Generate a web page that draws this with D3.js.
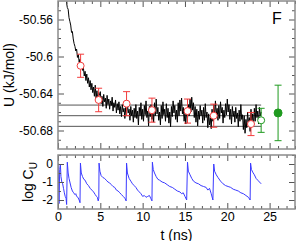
<!DOCTYPE html>
<html><head><meta charset="utf-8">
<script src="https://cdn.jsdelivr.net/npm/d3@7"></script>
<style>
html,body{margin:0;padding:0;background:#fff;}
svg{display:block;font-family:"Liberation Sans",Arial,sans-serif;}
</style></head>
<body>
<svg id="c" width="297" height="241"></svg>
<script>
// ---------- DATA ----------
const traceStart = 1.0, traceStep = 0.1;
const uTrace = [
-50.541,-50.547,-50.549,-50.558,-50.562,-50.566,-50.574,-50.573,-50.581,-50.586,
-50.589,-50.594,-50.592,-50.601,-50.598,-50.606,-50.603,-50.611,-50.607,-50.615,
-50.612,-50.621,-50.616,-50.626,-50.619,-50.629,-50.623,-50.633,-50.626,-50.636,
-50.629,-50.639,-50.633,-50.643,-50.631,-50.646,-50.637,-50.648,-50.639,-50.642,
-50.638,-50.651,-50.643,-50.654,-50.641,-50.649,-50.645,-50.656,-50.642,-50.652,
-50.646,-50.657,-50.648,-50.653,-50.644,-50.659,-50.650,-50.655,-50.647,-50.661,
-50.651,-50.658,-50.649,-50.662,-50.654,-50.665,-50.652,-50.660,-50.656,-50.667,
-50.655,-50.663,-50.650,-50.661,-50.657,-50.669,-50.654,-50.664,-50.658,-50.671,
-50.656,-50.666,-50.652,-50.667,-50.659,-50.674,-50.655,-50.664,-50.650,-50.668,
-50.657,-50.670,-50.653,-50.663,-50.648,-50.666,-50.659,-50.675,-50.654,-50.665,
-50.652,-50.668,-50.658,-50.671,-50.650,-50.664,-50.646,-50.662,-50.655,-50.669,
-50.660,-50.674,-50.653,-50.667,-50.649,-50.663,-50.657,-50.670,-50.651,-50.666,
-50.656,-50.672,-50.660,-50.676,-50.654,-50.665,-50.648,-50.661,-50.653,-50.668,
-50.658,-50.671,-50.650,-50.664,-50.647,-50.659,-50.645,-50.662,-50.655,-50.670,
-50.661,-50.673,-50.656,-50.667,-50.652,-50.664,-50.646,-50.660,-50.644,-50.658,
-50.650,-50.666,-50.654,-50.671,-50.657,-50.675,-50.659,-50.668,-50.653,-50.664,
-50.658,-50.672,-50.655,-50.669,-50.651,-50.666,-50.660,-50.677,-50.662,-50.674,
-50.666,-50.678,-50.657,-50.670,-50.652,-50.665,-50.648,-50.663,-50.656,-50.669,
-50.653,-50.667,-50.649,-50.661,-50.655,-50.672,-50.658,-50.666,-50.651,-50.663,
-50.646,-50.660,-50.652,-50.668,-50.657,-50.673,-50.654,-50.665,-50.659,-50.671,
-50.655,-50.667,-50.661,-50.676,-50.658,-50.670,-50.652,-50.668,-50.663,-50.679,
-50.664,-50.683,-50.668,-50.677,-50.660,-50.674,-50.666,-50.681,-50.657,-50.671,
-50.662,-50.675,-50.656,-50.670,-50.652,-50.666,-50.659,-50.673,-50.655,-50.664,
-50.660
];
// block averages (red open circles)
const blockT   = [2.67, 4.8, 8.1, 11.1, 15.3, 18.4, 22.8];
const blockU   = [-50.610, -50.647, -50.651, -50.658, -50.659, -50.664, -50.673];
const blockErr = [0.0125, 0.0127, 0.013, 0.013, 0.013, 0.0125, 0.0125];
// green estimates
const greenOpen   = {t: 24.0, u: -50.669, err: 0.013};
const greenFilled = {t: 26.0, u: -50.661, err: 0.030};
// horizontal reference lines (mean and +/- error)
const refLines = [-50.6525, -50.664, -50.6755];
const refSpan = [0, 24];
// autocorrelation log C_U
const cuT = [0.0,0.05,0.12,0.2,0.28,0.35,0.45,0.55,0.65,0.75,0.85,0.95,1.02,1.1,
1.2,1.3,1.4,1.55,1.7,1.85,2.0,2.1,2.2,2.35,2.5,2.6,2.65,
2.75,2.9,3.05,3.2,3.4,3.6,3.8,4.0,4.2,4.4,4.55,4.65,4.75,4.82,4.85,
4.95,5.1,5.3,5.5,5.7,5.9,6.1,6.3,6.5,6.7,6.9,7.1,7.3,7.5,7.7,7.9,8.05,8.1,
8.2,8.4,8.6,8.8,9.0,9.2,9.4,9.6,9.8,10.0,10.2,10.4,10.6,10.8,10.95,11.1,11.15,
11.25,11.4,11.6,11.8,12.0,12.3,12.6,12.9,13.2,13.5,13.8,14.1,14.4,14.6,14.8,15.0,15.2,15.3,
15.4,15.6,15.8,16.0,16.3,16.6,16.9,17.2,17.5,17.7,17.9,18.1,18.3,18.4,
18.5,18.7,18.9,19.2,19.5,19.8,20.1,20.4,20.7,21.0,21.3,21.6,21.9,22.2,22.5,22.7,22.75,
22.85,23.0,23.2,23.4,23.6,23.8,24.0];
const cuLog = [0.05,-0.5,-2.2,-0.3,0.0,-0.7,-1.0,-1.1,-1.35,-1.6,-1.8,-1.9,-2.25,0.1,
-0.5,-0.8,-1.0,-1.3,-1.5,-1.6,-1.7,-1.65,-1.8,-1.85,-2.0,-2.15,0.05,
-0.5,-0.7,-0.85,-0.9,-1.1,-1.2,-1.35,-1.45,-1.55,-1.7,-1.8,-1.85,-2.05,-1.9,0.05,
-0.4,-0.65,-0.75,-0.8,-0.9,-1.0,-1.05,-1.15,-1.25,-1.3,-1.45,-1.5,-1.6,-1.7,-1.8,-1.9,-2.05,0.05,
-0.5,-0.8,-0.95,-1.1,-1.2,-1.3,-1.45,-1.55,-1.65,-1.8,-1.75,-1.85,-1.8,-1.75,-1.9,-2.05,0.1,
-0.3,-0.5,-0.7,-0.85,-0.9,-1.0,-1.05,-1.15,-1.25,-1.3,-1.4,-1.5,-1.55,-1.65,-1.6,-1.8,-2.0,0.1,
-0.4,-0.6,-0.8,-0.95,-1.05,-1.1,-1.2,-1.25,-1.3,-1.45,-1.35,-1.65,-2.0,0.0,
-0.4,-0.6,-0.75,-0.95,-1.1,-1.2,-1.25,-1.3,-1.4,-1.45,-1.5,-1.6,-1.65,-1.75,-1.85,-2.0,0.05,
-0.3,-0.45,-0.6,-0.8,-0.9,-1.0,-1.1];
// ticks
const xMajor = [0,5,10,15,20,25];
const xMinor = d3.range(0,29,1);
const uMajor = [-50.56,-50.60,-50.64,-50.68];
const uMajorLabels = ["-50.56","-50.6","-50.64","-50.68"];
const uMinor = [-50.69,-50.67,-50.66,-50.65,-50.63,-50.62,-50.61,-50.59,-50.58,-50.57,-50.55];
const cMajor = [0,-1,-2];
const cMinor = [0.5,-0.5,-1.5];

// ---------- LAYOUT ----------
const L = 58, R = 295;
const topP = {t: 1, b: 149};
const botP = {t: 155, b: 209};
const svg = d3.select("#c");
const x = d3.scaleLinear().domain([0,28]).range([L,R]);
const yU = d3.scaleLinear().domain([-50.70,-50.54]).range([topP.b, topP.t]);
const yC = d3.scaleLinear().domain([-2.5,0.5]).range([botP.b, botP.t]);

const frameCol = "#8c8c8c", tickCol = "#555";
const defs = svg.append("defs");
defs.append("clipPath").attr("id","clipTop").append("rect")
  .attr("x",L).attr("y",topP.t).attr("width",R-L).attr("height",topP.b-topP.t);
defs.append("clipPath").attr("id","clipBot").append("rect")
  .attr("x",L).attr("y",botP.t).attr("width",R-L).attr("height",botP.b-botP.t);

function axes(p, yScale, yMaj, yMajLab, yMin, showXLabels){
  const mk = (gen, tr) => {
    const g = svg.append("g").attr("transform", tr).call(gen);
    g.select(".domain").remove();
    g.selectAll("line").attr("stroke", tickCol);
    g.selectAll("text").attr("font-size", 12).attr("fill","#000")
      .attr("font-family",'"Liberation Sans",Arial,sans-serif');
    return g;
  };
  // bottom x
  mk(d3.axisBottom(x).tickValues(xMajor).tickSize(-6).tickPadding(3)
      .tickFormat(showXLabels ? d3.format("d") : ""), `translate(0,${p.b})`)
    .selectAll("text").attr("font-size", 12.5);
  mk(d3.axisBottom(x).tickValues(xMinor.filter(v=>!xMajor.includes(v))).tickSize(-3).tickFormat(""), `translate(0,${p.b})`);
  // top x
  mk(d3.axisTop(x).tickValues(xMajor).tickSize(-6).tickFormat(""), `translate(0,${p.t})`);
  mk(d3.axisTop(x).tickValues(xMinor.filter(v=>!xMajor.includes(v))).tickSize(-3).tickFormat(""), `translate(0,${p.t})`);
  // left y
  mk(d3.axisLeft(yScale).tickValues(yMaj).tickSize(-6).tickPadding(5)
      .tickFormat((d,i)=>yMajLab[i]), `translate(${L},0)`);
  mk(d3.axisLeft(yScale).tickValues(yMin).tickSize(-3).tickFormat(""), `translate(${L},0)`);
  // right y
  mk(d3.axisRight(yScale).tickValues(yMaj).tickSize(-6).tickFormat(""), `translate(${R},0)`);
  mk(d3.axisRight(yScale).tickValues(yMin).tickSize(-3).tickFormat(""), `translate(${R},0)`);
}

// ---------- TOP PANEL ----------
const gTop = svg.append("g").attr("clip-path","url(#clipTop)");
gTop.selectAll("line.ref").data(refLines).enter().append("line")
  .attr("x1", x(refSpan[0])).attr("x2", x(refSpan[1]))
  .attr("y1", d=>yU(d)).attr("y2", d=>yU(d))
  .attr("stroke","#555").attr("stroke-width",1);
const traceData = uTrace.map((u,i)=>({t: traceStart + i*traceStep, u}));
gTop.append("path").datum(traceData)
  .attr("d", d3.line().x(d=>x(d.t)).y(d=>yU(d.u)))
  .attr("fill","none").attr("stroke","#000").attr("stroke-width",1);

function errPoint(g, t, u, e, col, filled, r){
  const cx = x(t);
  g.append("line").attr("x1",cx).attr("x2",cx).attr("y1",yU(u+e)).attr("y2",yU(u-e))
    .attr("stroke",col).attr("stroke-width",1);
  [u+e,u-e].forEach(v=>g.append("line").attr("x1",cx-3.5).attr("x2",cx+3.5)
    .attr("y1",yU(v)).attr("y2",yU(v)).attr("stroke",col).attr("stroke-width",1));
  g.append("circle").attr("cx",cx).attr("cy",yU(u)).attr("r",r)
    .attr("fill", filled ? col : "#fff").attr("stroke",col).attr("stroke-width",1);
}
const red = "#f23c3c", green = "#1f9a1f";
blockT.forEach((t,i)=>errPoint(gTop, t, blockU[i], blockErr[i], red, false, 3.5));
errPoint(gTop, greenOpen.t, greenOpen.u, greenOpen.err, green, false, 3.5);
errPoint(gTop, greenFilled.t, greenFilled.u, greenFilled.err, green, true, 4);

// ---------- BOTTOM PANEL ----------
const gBot = svg.append("g").attr("clip-path","url(#clipBot)");
gBot.append("path").datum(cuT.map((t,i)=>({t, v: cuLog[i]})))
  .attr("d", d3.line().x(d=>x(d.t)).y(d=>yC(d.v)))
  .attr("fill","none").attr("stroke","#3a3aff").attr("stroke-width",1);

axes(topP, yU, uMajor, uMajorLabels, uMinor, false);
axes(botP, yC, cMajor, cMajor.map(String), cMinor, true);

// frames
[topP, botP].forEach(p=>svg.append("rect").attr("x",L).attr("y",p.t)
  .attr("width",R-L).attr("height",p.b-p.t).attr("fill","none")
  .attr("stroke",frameCol).attr("stroke-width",1.5));

// labels
svg.append("text").attr("transform",`translate(14,${(topP.t+topP.b)/2}) rotate(-90)`)
  .attr("text-anchor","middle").attr("font-size",14).text("U (kJ/mol)");
const lc = svg.append("text").attr("transform",`translate(33,${(botP.t+botP.b)/2}) rotate(-90)`)
  .attr("text-anchor","middle").attr("font-size",14);
lc.append("tspan").text("log C");
lc.append("tspan").attr("font-size",10).attr("dy",4).text("U");
svg.append("text").attr("x",(L+R)/2).attr("y",239.5).attr("text-anchor","middle")
  .attr("font-size",14).text("t (ns)");
svg.append("text").attr("x",277).attr("y",24).attr("text-anchor","middle")
  .attr("font-size",16).text("F");
</script>
</body></html>
